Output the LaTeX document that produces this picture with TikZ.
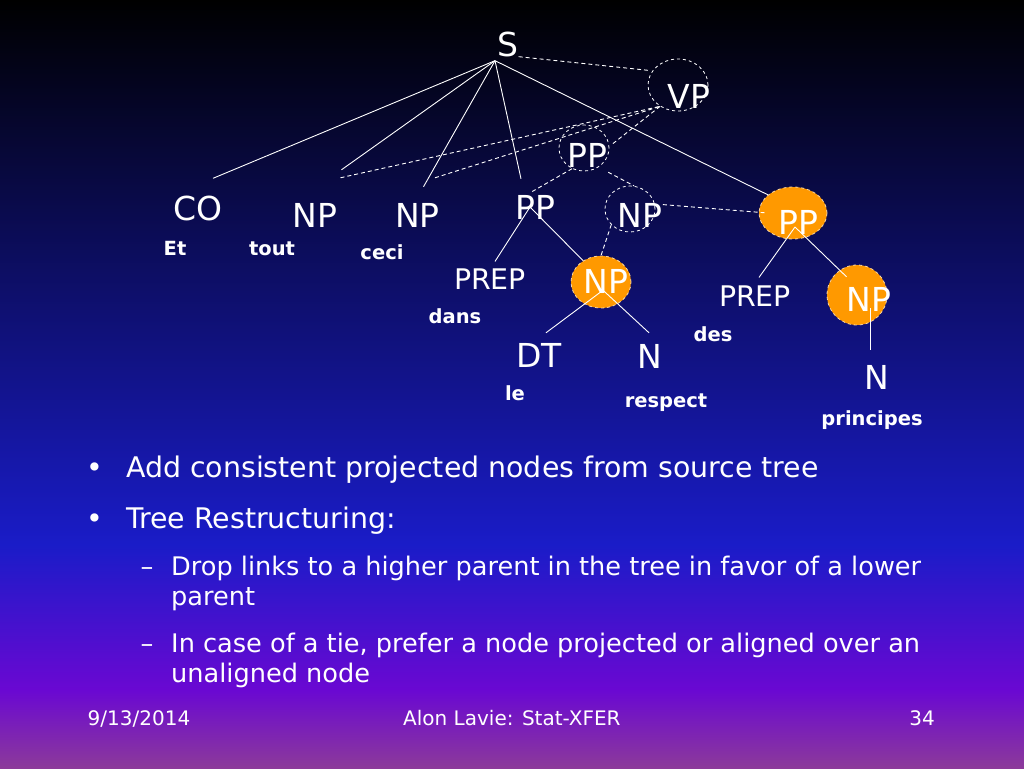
\documentclass[tikz,border=0pt]{standalone}
\usepackage{fontspec}
\setmainfont{DejaVu Sans}
\usetikzlibrary{shapes.geometric}
\definecolor{slideblue}{RGB}{26,28,200}
\definecolor{slideviolet}{RGB}{106,8,210}
\definecolor{slidemauve}{RGB}{140,58,154}
\definecolor{blobfill}{RGB}{255,153,0}
\definecolor{blobrim}{RGB}{250,214,160}
\begin{document}
\begin{tikzpicture}[x=1pt,y=-1pt,
    phrase/.style={text=white,inner sep=0pt,font=\fontsize{33}{33}\selectfont},
    prepnode/.style={text=white,inner sep=0pt,font=\fontsize{28.4}{28.4}\selectfont},
    word/.style={text=white,inner sep=0pt,anchor=base,font=\fontsize{19.5}{19.5}\selectfont\bfseries},
    ring/.style={ellipse,draw=white,dashed,line width=0.8pt,inner sep=0pt},
    blob/.style={ellipse,fill=blobfill,draw=blobrim,dashed,line width=0.8pt,inner sep=0pt},
    link/.style={white,line width=0.9pt},
    proj/.style={white,line width=0.9pt,dash pattern=on 4pt off 3pt},
    bodytext/.style={text=white,anchor=base west,inner sep=0pt}]
      \shade[top color=black,bottom color=slideblue] (0,0) rectangle (1024,545);
      \shade[top color=slideblue,bottom color=slideviolet] (0,545) rectangle (1024,690);
      \shade[top color=slideviolet,bottom color=slidemauve] (0,690) rectangle (1024,768);
      \useasboundingbox (0,0) rectangle (1024,768);
      \path
        (678,85) node[ring,minimum width=60pt,minimum height=52pt] (vpring){}
        (584,148) node[ring,minimum width=50pt,minimum height=46pt] (ppring){}
        (630,209) node[ring,minimum width=50pt,minimum height=46pt] (npring){}
        (793,213) node[blob,minimum width=68pt,minimum height=52pt] (ppblob){}
        (601,282) node[blob,minimum width=60pt,minimum height=52pt] (npblob){}
        (857,295) node[blob,minimum width=60pt,minimum height=60pt] (npblobr){};
      \path
        (508,44) node[phrase] (s){S}
        (198,208) node[phrase] (co){CO}
        (315,215) node[phrase] (np1){NP}
        (417.5,215) node[phrase] (np2){NP}
        (535,207) node[phrase] (pp1){PP}
        (689,96) node[phrase] (vp){VP}
        (587,155) node[phrase] (pp2){PP}
        (640,215) node[phrase] (np3){NP}
        (798,222) node[phrase] (pp3){PP}
        (606,281) node[phrase] (np4){NP}
        (869,299) node[phrase] (np5){NP}
        (539,355) node[phrase] (dt){DT}
        (650,356) node[phrase] (n1){N}
        (877,377) node[phrase] (n2){N}
        (490,279) node[prepnode] (prep1){PREP}
        (755,296) node[prepnode] (prep2){PREP};
      \path
        (175,255) node[word] (et){Et}
        (272,255) node[word] (tout){tout}
        (382,259) node[word] (ceci){ceci}
        (455,323) node[word] (dans){dans}
        (713,341) node[word] (des){des}
        (515,400) node[word] (le){le}
        (666,407) node[word] (respect){respect}
        (872,425) node[word] (principes){principes};
      \coordinate (sfoot) at ([xshift=-13pt,yshift=-4pt]s.south);
      \begin{scope}[link]
        \draw (sfoot) to ([xshift=15pt,yshift=17pt]co.north);
        \draw (sfoot) to ([xshift=4pt,yshift=33pt]np1.north east);
        \draw (sfoot) to ([xshift=6pt,yshift=16pt]np2.north);
        \draw (sfoot) to ([xshift=-14pt,yshift=16pt]pp1.north);
        \draw (sfoot) to (ppblob.144);
        \draw ([xshift=-5pt]pp1.center) to ([xshift=5pt,yshift=7pt]prep1.north);
        \draw ([xshift=-5pt]pp1.center) to (npblob.130);
        \draw ([xshift=-3pt,yshift=3pt]np4.south) to ([xshift=7pt,yshift=10pt]dt.north);
        \draw ([xshift=-3pt,yshift=3pt]np4.south) to ([xshift=-1pt,yshift=11pt]n1.north);
        \draw ([xshift=-3pt,yshift=-5pt]pp3.center) to ([xshift=4pt,yshift=8pt]prep2.north);
        \draw ([xshift=-3pt,yshift=-5pt]pp3.center) to ([yshift=10pt]np5.north west);
        \draw ([xshift=1pt,yshift=3pt]np5.south) to ([xshift=-7pt,yshift=15pt]n2.north);
      \end{scope}
      \begin{scope}[proj]
        \draw (s.south east) to ([xshift=-4pt]vpring.150);
        \draw ([xshift=3pt,yshift=25pt]np1.north east) to (vpring.230);
        \draw ([xshift=-5pt,yshift=25pt]np2.north east) to (vpring.230);
        \draw ([xshift=4pt]ppring.10) to (vpring.230);
        \draw (ppring.240) to ([xshift=-5pt,yshift=2pt]pp1.north);
        \draw ([xshift=7pt,yshift=-7pt]ppring.-45) to (npring.80);
        \draw ([xshift=8pt]npring.10) to ([xshift=9pt]ppblob.west);
        \draw (npring.220) to (npblob.north);
      \end{scope}
      \begin{scope}[font=\fontsize{28.4}{28.4}\selectfont]
        \path
          (95,477) node[text=white,anchor=base,inner sep=0pt] (dot1){•}
          (126,477) node[bodytext] (b1){Add consistent projected nodes from source tree}
          (95,528) node[text=white,anchor=base,inner sep=0pt] (dot2){•}
          (126,528) node[bodytext] (b2){Tree Restructuring:};
      \end{scope}
      \begin{scope}[font=\fontsize{25.6}{25.6}\selectfont]
        \path
          (147,575) node[text=white,anchor=base,inner sep=0pt] (dash1){–}
          (171,575) node[bodytext] (s1){Drop links to a higher parent in the tree in favor of a lower}
          (171,605) node[bodytext] (s1b){parent}
          (147,652) node[text=white,anchor=base,inner sep=0pt] (dash2){–}
          (171,652) node[bodytext] (s2){In case of a tie, prefer a node projected or aligned over an}
          (171,682) node[bodytext] (s2b){unaligned node};
      \end{scope}
      \begin{scope}[font=\fontsize{20}{20}\selectfont]
        \path
          (87.5,725) node[bodytext] (date){9/13/2014}
          (403,725) node[bodytext] (footer){Alon Lavie: Stat-XFER}
          (935,725) node[text=white,anchor=base east,inner sep=0pt] (page){34};
      \end{scope}
    \end{tikzpicture}
\end{document}
